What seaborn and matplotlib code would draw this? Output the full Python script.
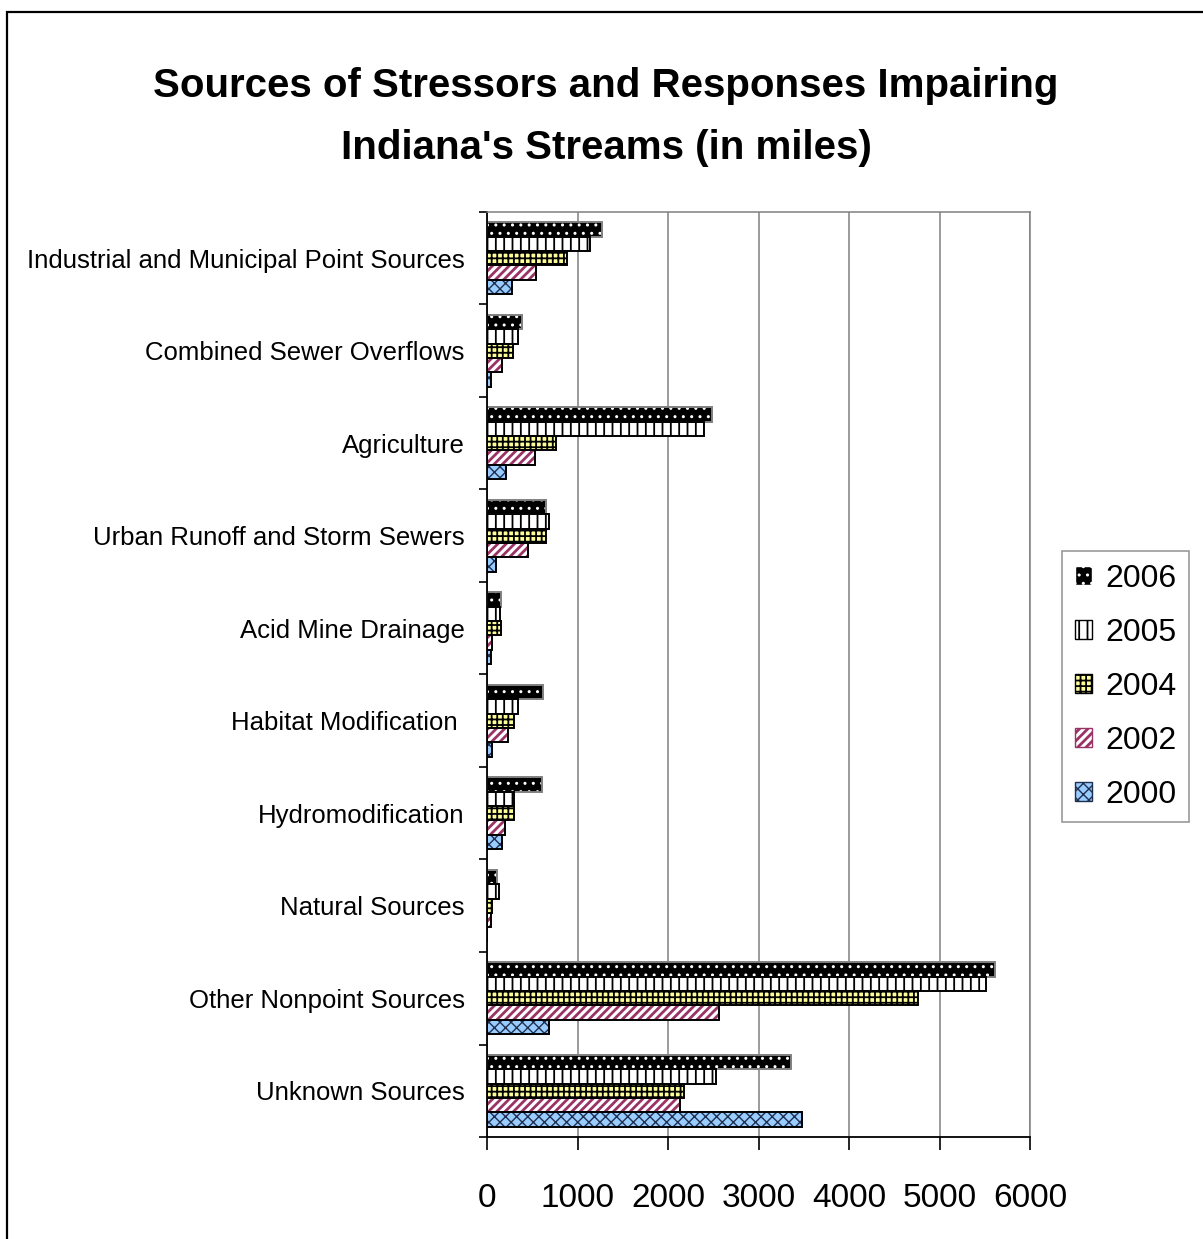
import matplotlib
matplotlib.use("Agg")
import matplotlib.pyplot as plt
from matplotlib.patches import Rectangle, Patch
from matplotlib.ticker import FixedLocator
import seaborn as sns
import pandas as pd

categories = ["Industrial and Municipal Point Sources", "Combined Sewer Overflows",
              "Agriculture", "Urban Runoff and Storm Sewers", "Acid Mine Drainage",
              "Habitat Modification ", "Hydromodification", "Natural Sources",
              "Other Nonpoint Sources", "Unknown Sources"]
years = ["2006", "2005", "2004", "2002", "2000"]
v2006 = [1275, 392, 2487, 648, 150, 619, 604, 115, 5616, 3361]
v2005 = [1136, 344, 2399, 685, 147, 348, 300, 134, 5510, 2532]
v2004 = [879, 286, 762, 652, 158, 300, 300, 55, 4763, 2180]
v2002 = [542, 165, 531, 454, 59, 227, 194, 43, 2563, 2133]
v2000 = [275, 40, 209, 103, 44, 59, 165, 0, 683, 3483]
x_ticks = [0, 1000, 2000, 3000, 4000, 5000, 6000]
title = "Sources of Stressors and Responses Impairing\nIndiana's Streams (in miles)"

series = {"2006": v2006, "2005": v2005, "2004": v2004, "2002": v2002, "2000": v2000}
rows = []
for y in years:
    for c, v in zip(categories, series[y]):
        rows.append({"Source": c, "Year": y, "Miles": v})
df = pd.DataFrame(rows)

# styles: face, hatch, hatch colour, outline colour, hatch linewidth
styles = {
    "2006": ("#000000", "..", "#FFFFFF", "#808080", 1.0),
    "2005": ("#FFFFFF", "||", "#000000", "#000000", 1.3),
    "2004": ("#FFFF99", "+++", "#000000", "#000000", 1.3),
    "2002": ("#FFFFFF", "////", "#993366", "#000000", 2.0),
    "2000": ("#99CCFF", "xxx", "#1F2F4F", "#000000", 1.0),
}

sns.set_theme(style="white")
plt.rcParams["font.family"] = ["Liberation Sans", "DejaVu Sans"]
plt.rcParams["text.color"] = "black"
plt.rcParams["xtick.color"] = "black"
plt.rcParams["ytick.color"] = "black"
plt.rcParams["axes.labelcolor"] = "black"
plt.rcParams["hatch.linewidth"] = 1.3


def set_hlw(p, lw):
    if hasattr(p, "set_hatch_linewidth"):
        p.set_hatch_linewidth(lw)
    else:
        p._hatch_linewidth = lw


fig = plt.figure(figsize=(12.03, 12.39), dpi=100)
fig.patch.set_facecolor("white")
ax = fig.add_axes([487/1203, 1-1137/1239, (1030-487)/1203, (1137-212)/1239])

sns.barplot(data=df, y="Source", x="Miles", hue="Year", hue_order=years,
            order=categories, orient="h", width=0.78, gap=0, legend=False,
            palette={y: styles[y][0] for y in years}, ax=ax, saturation=1,
            errorbar=None)

for cont, y in zip(ax.containers, years):
    face, hatch, hcol, ecol, hlw = styles[y]
    for p in cont:
        p.set_facecolor(face)
        p.set_hatch(hatch)
        p.set_edgecolor(hcol)
        p.set_linewidth(0)
        set_hlw(p, hlw)
        ax.add_patch(Rectangle(p.get_xy(), p.get_width(), p.get_height(),
                               fill=False, edgecolor=ecol, linewidth=1.4,
                               zorder=p.get_zorder() + 0.1))

ax.set_xlim(0, 6000)
ax.set_ylim(len(categories) - 0.5, -0.5)
ax.set_xticks(x_ticks)
ax.set_xticklabels([str(t) for t in x_ticks])
ax.set_xlabel("")
ax.set_ylabel("")
ax.grid(axis="x", color="#808080", linewidth=1.1)
ax.grid(axis="y", visible=False)
ax.set_axisbelow(True)

for s in ["top", "right"]:
    ax.spines[s].set_color("#808080")
    ax.spines[s].set_linewidth(1.1)
for s in ["left", "bottom"]:
    ax.spines[s].set_color("black")
    ax.spines[s].set_linewidth(1.3)

ax.tick_params(axis="x", which="major", direction="out", length=9, width=1.2,
               color="black", pad=24, labelsize=24, bottom=True, labelcolor="black")
ax.tick_params(axis="y", which="major", length=0, pad=16, labelsize=18.5, labelcolor="black")
ax.yaxis.set_minor_locator(FixedLocator([i - 0.5 for i in range(len(categories) + 1)]))
ax.tick_params(axis="y", which="minor", direction="out", length=6, width=1.2,
               color="black", left=True)

fig.text(606/1203, 1-117/1239, title, ha="center", va="center", multialignment="center",
         fontsize=29, fontweight="bold", linespacing=1.8, color="black")

handles = []
for y in years:
    h = Patch(facecolor=styles[y][0], hatch=styles[y][1], edgecolor=styles[y][2], linewidth=1)
    set_hlw(h, styles[y][4])
    handles.append(h)
leg = fig.legend(handles, years, loc="upper left",
                 bbox_to_anchor=(1062/1203, 1-551/1239), bbox_transform=fig.transFigure,
                 frameon=True, fancybox=False, fontsize=23, borderaxespad=0,
                 handlelength=0.55, handleheight=0.55, handletextpad=0.4,
                 labelspacing=0.75, borderpad=0.4)
leg.get_frame().set_edgecolor("#808080")
leg.get_frame().set_linewidth(1.2)
for t in leg.get_texts():
    t.set_color("black")
for h, y in zip(leg.legend_handles, years):
    h.set_hatch(styles[y][1])
    h.set_edgecolor(styles[y][2])
    h.set_linewidth(1)
    set_hlw(h, styles[y][4])

fig.add_artist(Rectangle((7/1203, -0.05), 1.1, 1 - 12/1239 + 0.05, transform=fig.transFigure,
                         fill=False, edgecolor="black", linewidth=1.6, clip_on=False))

fig.savefig("out.png", dpi=100, facecolor="white")
